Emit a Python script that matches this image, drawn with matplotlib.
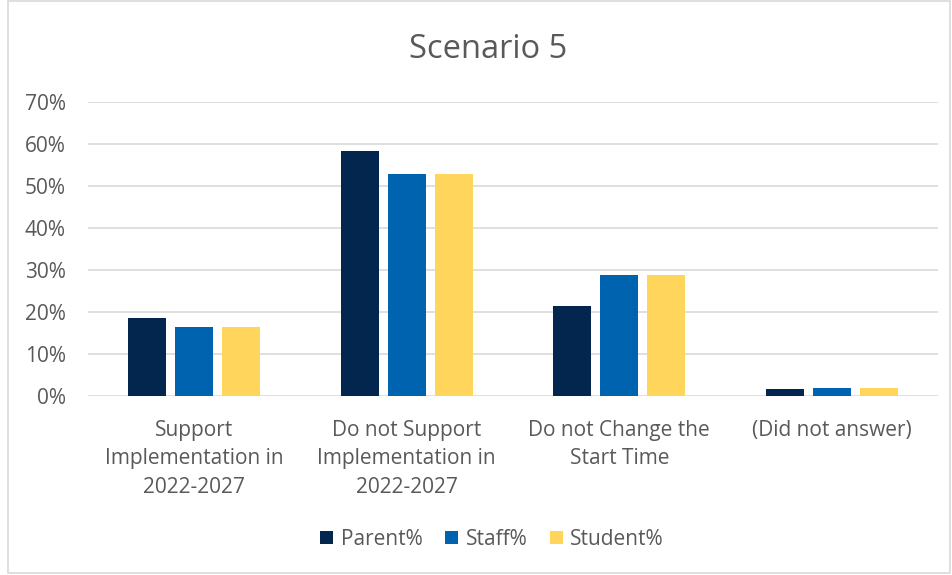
import numpy as np
import matplotlib.pyplot as plt
from matplotlib.patches import Rectangle
from matplotlib.ticker import PercentFormatter

# survey responses, share of each group
categories = ["Support\nImplementation in\n2022-2027",
              "Do not Support\nImplementation in\n2022-2027",
              "Do not Change the\nStart Time",
              "(Did not answer)"]
parent = [0.185, 0.583, 0.214, 0.017]
staff = [0.164, 0.528, 0.287, 0.020]
student = [0.164, 0.528, 0.287, 0.020]

series = [("Parent%", parent, "#03264F"),
          ("Staff%", staff, "#0063B0"),
          ("Student%", student, "#FFD55B")]

plt.rcParams['font.family'] = ['Open Sans', 'DejaVu Sans']
text_color = "#595959"

fig = plt.figure(figsize=(9.52, 5.75), dpi=100)
ax = fig.add_axes([0.0924, 0.311, 0.893, 0.512])

x = np.arange(len(categories))
width = 0.179
step = 0.221
for i, (name, vals, color) in enumerate(series):
    ax.bar(x + (i - 1) * step, vals, width, color=color, label=name, zorder=3)

ax.set_ylim(0, 0.7)
ax.set_xlim(-0.5, len(categories) - 0.5)
ax.yaxis.set_major_formatter(PercentFormatter(1.0, decimals=0))
ax.set_yticks(np.arange(0, 0.71, 0.1))
ax.grid(axis='y', color="#D9D9D9", linewidth=1.2, zorder=0)
for s in ax.spines.values():
    s.set_visible(False)
ax.tick_params(axis='both', length=0, colors=text_color, labelsize=15)
ax.tick_params(axis='y', pad=16)
ax.tick_params(axis='x', pad=17)
ax.set_xticks(x)
ax.set_xticklabels(categories, linespacing=1.46)

fig.text(0.513, 0.914, "Scenario 5", ha='center', va='center',
         fontsize=23.5, color=text_color)

leg = fig.legend(loc='center', bbox_to_anchor=(0.517, 0.062), ncol=3, frameon=False,
                 fontsize=15, handlelength=0.62, handleheight=0.62,
                 handletextpad=0.35, columnspacing=1.1)
for t in leg.get_texts():
    t.set_color(text_color)

# light outline around the whole chart
fig.patches.append(Rectangle((0.008, 0.004), 0.99, 0.994, transform=fig.transFigure,
                             fill=False, edgecolor="#D9D9D9", linewidth=1.2))

fig.savefig("out.png", dpi=100)
